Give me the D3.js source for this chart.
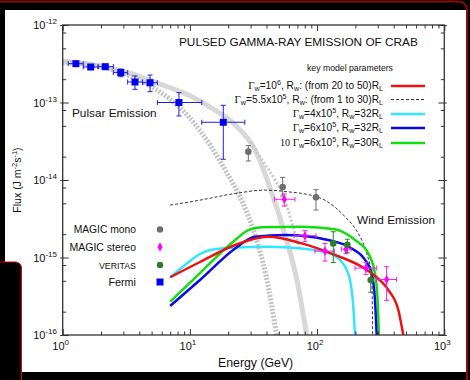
<!DOCTYPE html>
<html>
<head>
<meta charset="utf-8">
<script src="https://cdn.jsdelivr.net/npm/d3@7"></script>
<style>
  body { margin: 0; background: #000; }
  svg { display: block; font-family: "Liberation Sans", Arial, sans-serif; }
</style>
</head>
<body>
<svg id="chart" width="470" height="380"></svg>
<script>
// ---- data (energy in GeV, flux in J m^-2 s^-1) ----
var fermiE    = [1.27, 1.66, 2.16, 2.86, 3.7, 4.86, 8.2, 18.3];
var fermiF    = [3.17e-13, 2.87e-13, 2.9e-13, 2.43e-13, 1.84e-13, 1.8e-13, 1.0e-13, 5.56e-14];
var fermiElo  = [1.107, 1.45, 1.9, 2.5, 3.24, 4.25, 5.55, 12.4];
var fermiEhi  = [1.45, 1.9, 2.5, 3.24, 4.25, 5.55, 12.4, 27];
var fermiFlo  = [3.05e-13, 2.8e-13, 2.75e-13, 2.15e-13, 1.48e-13, 1.38e-13, 6.7e-14, 1.85e-14];
var fermiFhi  = [3.3e-13, 2.95e-13, 3.05e-13, 2.7e-13, 2.2e-13, 2.26e-13, 1.34e-13, 9.2e-14];

var monoE   = [28.8, 53.6, 98];
var monoF   = [2.32e-14, 8.1e-15, 6.0e-15];
var monoFlo = [1.76e-14, 6.2e-15, 4.1e-15];
var monoFhi = [2.78e-14, 1.08e-14, 7.5e-15];

var stereoE   = [55.2, 80.3, 115.4, 168.7, 242, 352];
var stereoF   = [5.64e-15, 1.91e-15, 1.21e-15, 1.28e-15, 7.3e-16, 5.2e-16];
var stereoElo = [46.1, 66.0, 96.1, 155, 198.6, 294];
var stereoEhi = [67, 98.1, 136.6, 185, 294, 422];
var stereoFlo = [4.6e-15, 1.6e-15, 9.0e-16, 1.12e-15, 6.0e-16, 2.8e-16];
var stereoFhi = [6.6e-15, 2.22e-15, 1.52e-15, 1.45e-15, 8.7e-16, 7.6e-16];

var veritasE   = [134, 172.8, 264];
var veritasF   = [1.52e-15, 1.46e-15, 5.13e-16];
var veritasFlo = [8.6e-16, 1.15e-15, 3.56e-16];
var veritasFhi = [2.15e-15, 1.72e-15, 6.9e-16];

// pulsar model curves (grey)
var graySolidE = [1.0, 1.96, 3.38, 5.82, 10, 15.7, 22.7, 32.5, 42.7, 56, 69.5, 82.7];
var graySolidF = [3.43e-13, 2.96e-13, 2.4e-13, 1.73e-13, 1.22e-13, 8.0e-14, 5.13e-14, 2.44e-14, 7.9e-15, 1.95e-15, 5.1e-16, 1e-16];
var grayDotE = [1.0, 1.96, 3.38, 5.82, 10, 14.4, 18.9, 25.5, 32.5, 39.6, 48];
var grayDotF = [3.3e-13, 2.9e-13, 2.2e-13, 1.37e-13, 6.3e-14, 2.83e-14, 1.35e-14, 5.5e-15, 1.95e-15, 5.9e-16, 1e-16];
var grayThinE = [30, 37, 46.7, 56, 64.6, 73.5];
var grayThinF = [3.1e-14, 1.81e-14, 1e-14, 5.5e-15, 2.48e-15, 1.25e-15];

// wind model curves
var redE = [7.0, 12, 22.7, 41.1, 75.7, 138.3, 224.4, 285, 363, 435, 476];
var redF = [5.56e-16, 8.75e-16, 1.45e-15, 1.85e-15, 1.52e-15, 1.08e-15, 7.6e-16, 5.77e-16, 3.81e-16, 2.1e-16, 1e-16];
var dashE = [7.0, 12, 22.7, 38.9, 61.2, 88, 115, 165.6, 209.6, 245, 268.7, 273.6];
var dashF = [4.75e-15, 5.5e-15, 6.7e-15, 7.4e-15, 7.0e-15, 6.4e-15, 5.5e-15, 3.36e-15, 2.07e-15, 1.14e-15, 5.65e-16, 1e-16];
var cyanE = [7.0, 9.16, 12, 14.4, 22.7, 41.1, 75.7, 121.8, 156, 181.5, 192.6, 198.6];
var cyanF = [5.56e-16, 8.0e-16, 1.11e-15, 1.25e-15, 1.35e-15, 1.38e-15, 1.31e-15, 1.14e-15, 8.8e-16, 5.1e-16, 2.3e-16, 1e-16];
var blueE = [7.0, 12, 22.7, 32.5, 55.9, 121.8, 187, 238.4, 268.7, 285, 294];
var blueF = [2.37e-16, 5.13e-16, 1.31e-15, 1.85e-15, 1.95e-15, 1.68e-15, 1.31e-15, 9.3e-16, 6.25e-16, 2.83e-16, 1e-16];
var greenE = [7.0, 12, 22.7, 28.8, 36.7, 75.7, 138.3, 198.6, 252.6, 285, 299, 306];
var greenF = [2.69e-16, 6.3e-16, 1.68e-15, 2.26e-15, 2.45e-15, 2.5e-15, 2.31e-15, 1.68e-15, 1.13e-15, 6.25e-16, 2.83e-16, 1e-16];

var xMajor = [1, 10, 100, 1000];
var xExp   = ["0", "1", "2", "3"];
var yMajor = [1e-16, 1e-15, 1e-14, 1e-13, 1e-12];
var yExp   = ["-16", "-15", "-14", "-13", "-12"];

var svg = d3.select("#chart");

// frame / background
svg.append("rect").attr("width", 470).attr("height", 380).attr("fill", "#000");
svg.append("rect").attr("x", -20).attr("y", 1.5).attr("width", 487).attr("height", 420)
  .attr("rx", 8).attr("fill", "none").attr("stroke", "#8c0a0a").attr("stroke-width", 2);
svg.append("rect").attr("x", 5).attr("y", 10).attr("width", 461).attr("height", 362).attr("fill", "#fff");
svg.append("rect").attr("x", -20).attr("y", 262).attr("width", 41.5).attr("height", 150)
  .attr("rx", 6).attr("fill", "#000").attr("stroke", "#e00000").attr("stroke-width", 1);

var x = d3.scaleLog().domain([1, 1000]).range([62.7, 444.3]);
var y = d3.scaleLog().domain([1e-16, 1e-12]).range([335, 25]);

svg.append("defs").append("clipPath").attr("id", "clip")
  .append("rect").attr("x", 62.7).attr("y", 25).attr("width", 381.6).attr("height", 310);

var plot = svg.append("g").attr("clip-path", "url(#clip)");

function pts(es, fs) { return es.map(function(e, i) { return [e, fs[i]]; }); }
var line = d3.line().x(function(d) { return x(d[0]); }).y(function(d) { return y(d[1]); })
  .curve(d3.curveMonotoneX);

// grey pulsar curves
plot.append("path").attr("d", line(pts(graySolidE, graySolidF)))
  .attr("fill", "none").attr("stroke", "#d8d8d8").attr("stroke-width", 5);
plot.append("path").attr("d", line(pts(grayDotE, grayDotF)))
  .attr("fill", "none").attr("stroke", "#c4c4c4").attr("stroke-width", 5)
  .attr("stroke-dasharray", "2,1.5");
plot.append("path").attr("d", line(pts(grayThinE, grayThinF)))
  .attr("fill", "none").attr("stroke", "#c8c8c8").attr("stroke-width", 3)
  .attr("stroke-dasharray", "2,2");

// wind curves
plot.append("path").attr("d", line(pts(dashE, dashF)))
  .attr("fill", "none").attr("stroke", "#000").attr("stroke-width", 0.8).attr("stroke-dasharray", "3,2");
plot.append("path").attr("d", line(pts(cyanE, cyanF)))
  .attr("fill", "none").attr("stroke", "#33e6ff").attr("stroke-width", 2.5);
plot.append("path").attr("d", line(pts(greenE, greenF)))
  .attr("fill", "none").attr("stroke", "#11dd11").attr("stroke-width", 2.5);
plot.append("path").attr("d", line(pts(blueE, blueF)))
  .attr("fill", "none").attr("stroke", "#0a0ae6").attr("stroke-width", 2.5);
plot.append("path").attr("d", line(pts(redE, redF)))
  .attr("fill", "none").attr("stroke", "#ee1111").attr("stroke-width", 2.5);

// error bars
function errBars(g, es, fs, elo, ehi, flo, fhi, color) {
  es.forEach(function(e, i) {
    var cx = x(e), cy = y(fs[i]);
    if (elo) {
      g.append("line").attr("x1", x(elo[i])).attr("x2", x(ehi[i])).attr("y1", cy).attr("y2", cy)
        .attr("stroke", color).attr("stroke-width", 1);
      [elo[i], ehi[i]].forEach(function(v) {
        g.append("line").attr("x1", x(v)).attr("x2", x(v)).attr("y1", cy - 2.5).attr("y2", cy + 2.5)
          .attr("stroke", color).attr("stroke-width", 1);
      });
    }
    g.append("line").attr("x1", cx).attr("x2", cx).attr("y1", y(flo[i])).attr("y2", y(fhi[i]))
      .attr("stroke", color).attr("stroke-width", 1);
    [flo[i], fhi[i]].forEach(function(v) {
      g.append("line").attr("x1", cx - 2.5).attr("x2", cx + 2.5).attr("y1", y(v)).attr("y2", y(v))
        .attr("stroke", color).attr("stroke-width", 1);
    });
  });
}

var marks = svg.append("g");
errBars(marks, monoE, monoF, null, null, monoFlo, monoFhi, "#6e6e6e");
errBars(marks, fermiE, fermiF, fermiElo, fermiEhi, fermiFlo, fermiFhi, "#2020e0");
errBars(marks, stereoE, stereoF, stereoElo, stereoEhi, stereoFlo, stereoFhi, "#ee22ee");
errBars(marks, veritasE, veritasF, null, null, veritasFlo, veritasFhi, "#2e7d2e");

marks.selectAll(".mono").data(pts(monoE, monoF)).enter().append("circle")
  .attr("cx", function(d) { return x(d[0]); }).attr("cy", function(d) { return y(d[1]); })
  .attr("r", 3.3).attr("fill", "#6e6e6e");
marks.selectAll(".fermi").data(pts(fermiE, fermiF)).enter().append("rect")
  .attr("x", function(d) { return x(d[0]) - 3.5; }).attr("y", function(d) { return y(d[1]) - 3.5; })
  .attr("width", 7).attr("height", 7).attr("fill", "#0000ee");
var diamond = d3.symbol().type(d3.symbolDiamond).size(24);
marks.selectAll(".stereo").data(pts(stereoE, stereoF)).enter().append("path")
  .attr("d", diamond).attr("transform", function(d) { return "translate(" + x(d[0]) + "," + y(d[1]) + ")"; })
  .attr("fill", "#ff00ff");
marks.selectAll(".veritas").data(pts(veritasE, veritasF)).enter().append("circle")
  .attr("cx", function(d) { return x(d[0]); }).attr("cy", function(d) { return y(d[1]); })
  .attr("r", 3.3).attr("fill", "#2e7d2e");

// axes: majors and minors, ticks pointing in
var xMinor = [], yMinor = [];
[1, 10, 100].forEach(function(b) { for (var k = 2; k <= 9; k++) xMinor.push(b * k); });
[1e-16, 1e-15, 1e-14, 1e-13].forEach(function(b) { [2, 5, 8].forEach(function(k) { yMinor.push(b * k); }); });

function addAxis(gen, tr, vals, size) {
  var g = svg.append("g").attr("transform", tr)
    .call(gen.tickValues(vals).tickSize(size).tickSizeOuter(0).tickFormat(""));
  g.select(".domain").remove();
  g.selectAll(".tick line").attr("stroke", "#333").attr("stroke-width", 1);
}
addAxis(d3.axisBottom(x), "translate(0,335)", xMajor, -6);
addAxis(d3.axisBottom(x), "translate(0,335)", xMinor, -3.5);
addAxis(d3.axisTop(x), "translate(0,25)", xMajor, -6);
addAxis(d3.axisTop(x), "translate(0,25)", xMinor, -3.5);
addAxis(d3.axisLeft(y), "translate(62.7,0)", yMajor, -6);
addAxis(d3.axisLeft(y), "translate(62.7,0)", yMinor, -3.5);
addAxis(d3.axisRight(y), "translate(444.3,0)", yMajor, -6);
addAxis(d3.axisRight(y), "translate(444.3,0)", yMinor, -3.5);
// small outward stubs at major y ticks
addAxis(d3.axisLeft(y), "translate(62.7,0)", yMajor, 2.5);
addAxis(d3.axisRight(y), "translate(444.3,0)", yMajor, 2.5);

svg.append("rect").attr("x", 62.7).attr("y", 25).attr("width", 381.6).attr("height", 310)
  .attr("fill", "none").attr("stroke", "#333").attr("stroke-width", 1.3);

// tick labels with superscripts
xMajor.forEach(function(v, i) {
  var t = svg.append("text").attr("x", x(v) - 2).attr("y", 350).attr("text-anchor", "middle")
    .attr("font-size", 11).attr("fill", "#111");
  t.append("tspan").text("10");
  t.append("tspan").attr("dy", -5).attr("font-size", 8).text(xExp[i]);
});
yMajor.forEach(function(v, i) {
  var t = svg.append("text").attr("x", 57).attr("y", y(v) + 4).attr("text-anchor", "end")
    .attr("font-size", 11).attr("fill", "#111");
  t.append("tspan").text("10");
  t.append("tspan").attr("dy", -5).attr("font-size", 8).text(yExp[i]);
});

// axis titles
svg.append("text").attr("x", 218).attr("y", 367).attr("font-size", 12.3).attr("fill", "#111")
  .text("Energy (GeV)");
var yt = svg.append("text").attr("transform", "translate(21,180) rotate(-90)")
  .attr("text-anchor", "middle").attr("font-size", 10.5).attr("fill", "#111");
yt.append("tspan").text("Flux (J m");
yt.append("tspan").attr("dy", -4).attr("font-size", 7.5).text("-2");
yt.append("tspan").attr("dy", 4).text("s");
yt.append("tspan").attr("dy", -4).attr("font-size", 7.5).text("-1");
yt.append("tspan").attr("dy", 4).text(")");

// annotations
svg.append("text").attr("x", 179).attr("y", 46).attr("font-size", 11.8).attr("fill", "#111")
  .text("PULSED GAMMA-RAY EMISSION OF CRAB");
svg.append("text").attr("x", 72).attr("y", 117).attr("font-size", 11.8).attr("fill", "#111")
  .text("Pulsar Emission");
svg.append("text").attr("x", 357).attr("y", 224).attr("font-size", 11.8).attr("fill", "#111")
  .text("Wind Emission");
svg.append("text").attr("x", 350).attr("y", 71).attr("text-anchor", "middle").attr("font-size", 8.7)
  .attr("fill", "#111").text("key model parameters");

// model legend
var legendRows = [
  { pre: "", g: "=10", gs: "6", r: ", R", rw: ": (from 20 to 50)R", color: "#ee1111", dash: null },
  { pre: "", g: "=5.5x10", gs: "5", r: ", R", rw: ": (from 1 to 30)R", color: "#000", dash: "3,2" },
  { pre: "", g: "=4x10", gs: "5", r: ", R", rw: "=32R", color: "#33e6ff", dash: null },
  { pre: "", g: "=6x10", gs: "5", r: ", R", rw: "=32R", color: "#0a0ae6", dash: null },
  { pre: "10 ", g: "=6x10", gs: "5", r: ", R", rw: "=30R", color: "#11dd11", dash: null }
];
var legendY = [86, 99.5, 114, 128, 143];
legendRows.forEach(function(row, i) {
  var ly = legendY[i];
  var t = svg.append("text").attr("x", 383).attr("y", ly + 3).attr("text-anchor", "end")
    .attr("font-size", 10.2).attr("fill", "#111");
  if (row.pre) t.append("tspan").attr("font-family", "Liberation Serif, serif").text(row.pre);
  t.append("tspan").attr("font-family", "Liberation Serif, serif").attr("font-size", 10.8).text("\u0393");
  t.append("tspan").attr("dy", 2).attr("font-size", 7.2).text("w");
  t.append("tspan").attr("dy", -2).text(row.g);
  t.append("tspan").attr("dy", -4).attr("font-size", 7.2).text(row.gs);
  t.append("tspan").attr("dy", 4).text(row.r);
  t.append("tspan").attr("dy", 2).attr("font-size", 7.2).text("w");
  t.append("tspan").attr("dy", -2).text(row.rw);
  t.append("tspan").attr("dy", 2).attr("font-size", 7.2).text("L");
  var l = svg.append("line").attr("x1", 391).attr("x2", 425).attr("y1", ly).attr("y2", ly)
    .attr("stroke", row.color).attr("stroke-width", row.dash ? 0.8 : 2.5);
  if (row.dash) l.attr("stroke-dasharray", row.dash);
});

// data legend
var dataLabels = ["MAGIC mono", "MAGIC stereo", "VERITAS", "Fermi"];
var dataSizes = [10.3, 10.5, 8.8, 10.8];
var dataY = [229.5, 247, 265, 282];
dataLabels.forEach(function(lab, i) {
  svg.append("text").attr("x", 136).attr("y", dataY[i] + 3.5).attr("text-anchor", "end")
    .attr("font-size", dataSizes[i]).attr("fill", "#111").text(lab);
});
svg.append("circle").attr("cx", 160).attr("cy", dataY[0]).attr("r", 3.2).attr("fill", "#6e6e6e");
svg.append("path").attr("d", diamond).attr("transform", "translate(160," + dataY[1] + ")").attr("fill", "#ff00ff");
svg.append("circle").attr("cx", 160).attr("cy", dataY[2]).attr("r", 3.2).attr("fill", "#2e7d2e");
svg.append("rect").attr("x", 156.5).attr("y", dataY[3] - 3.5).attr("width", 7).attr("height", 7).attr("fill", "#0000ee");
</script>
</body>
</html>
